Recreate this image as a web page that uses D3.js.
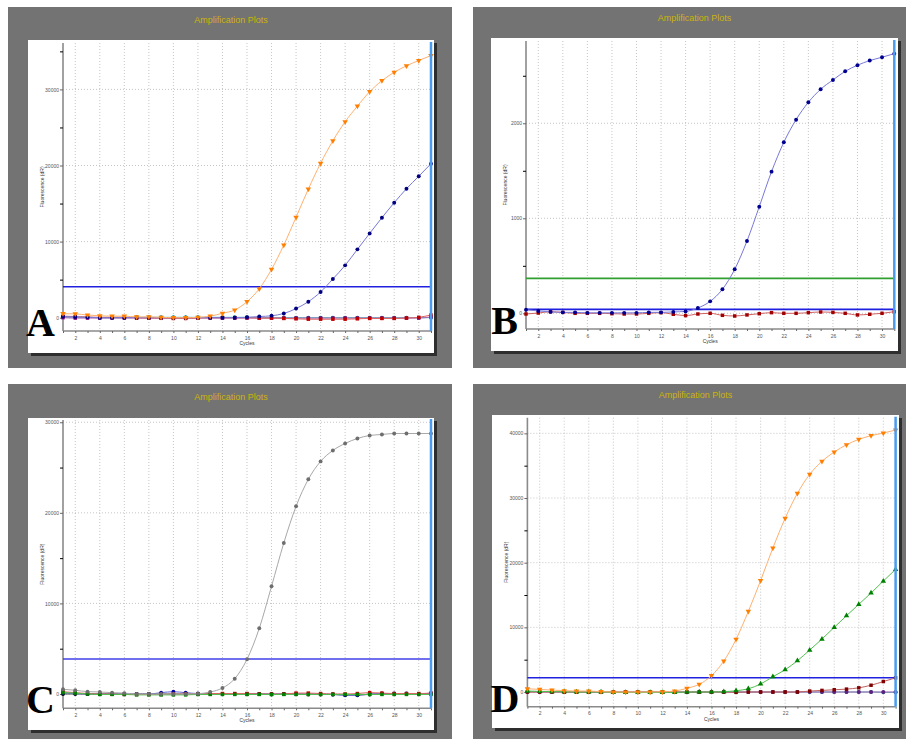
<!DOCTYPE html>
<html>
<head>
<meta charset="utf-8">
<script src="https://cdn.jsdelivr.net/npm/d3@7"></script>
<style>
  body { margin: 0; background: #fff; }
  svg { display: block; font-family: "Liberation Sans", Arial, sans-serif; }
</style>
</head>
<body>
<script>
// cycle numbers on the x axis
var cycles = [1,2,3,4,5,6,7,8,9,10,11,12,13,14,15,16,17,18,19,20,21,22,23,24,25,26,27,28,29,30,31];

// panel A
var aOrange = [525,500,350,250,200,200,100,100,50,0,0,50,200,580,1010,2100,3800,6350,9550,13200,16900,20300,23250,25750,27800,29700,31150,32250,33100,33800,34450];
var aNavy = [150,100,50,0,0,0,0,0,0,0,0,0,0,0,0,50,150,250,550,1200,2100,3380,5090,6880,8980,11080,13140,15110,16950,18580,20240];
var aTeal = [100,50,50,0,0,0,50,50,50,50,50,50,50,50,50,50,0,0,0,0,0,0,0,0,0,0,0,0,0,0,0];
var aPurple = [0,-50,-50,-50,-50,-50,-50,-50,-50,-50,-50,-50,-50,-50,-50,-50,-50,-50,-50,-50,-50,-50,-50,-50,-50,-50,-50,-50,-50,-50,100];
var aRed = [200,150,100,50,50,50,0,-50,-50,-100,-100,-50,0,0,0,0,-50,-50,-100,-150,-200,-200,-200,-200,-150,-100,-100,-100,-50,50,350];
var aThreshold = 4070;

// panel B
var bBlue = [38,25,15,10,10,5,5,5,5,5,10,10,15,20,56,126,253,463,761,1122,1491,1800,2038,2221,2358,2456,2547,2611,2660,2695,2733];
var bRed = [-7,3,17,10,0,0,0,-4,-7,-7,0,7,-10,-24,-7,0,-21,-28,-17,-4,7,0,0,7,14,10,0,-17,-10,0,17];
var bThresholds = [368, 42];

// panel C
var cGray = [520,410,260,220,150,100,0,0,0,0,0,30,220,660,1690,3830,7250,11890,16670,20720,23700,25680,26890,27660,28210,28540,28650,28760,28760,28760,28760];
var cRed = [250,150,50,0,0,-50,-50,-50,-50,0,0,0,50,50,50,50,0,0,0,100,100,50,0,0,50,150,100,50,50,50,100];
var cBlue = [100,50,0,0,0,0,0,0,150,250,150,50,50,0,0,0,0,0,0,0,0,0,-50,-150,-150,0,50,50,50,0,100];
var cGreen = [150,100,0,-50,-50,-50,-100,-100,-100,-100,-100,-50,-50,-50,-50,-50,-50,-50,-50,-50,-50,-50,-50,-50,-50,-50,-50,-50,-50,-50,-50];
var cBlack = [0,0,0,0,0,0,0,0,0,0,0,0,0,0,0,0,0,-50,0,0,-50,-50,-50,-100,-100,-50,0,0,0,0,0];
var cThreshold = 3860;

// panel D
var dOrange = [510,400,300,200,150,150,50,0,0,0,0,30,150,580,1190,2530,4790,8140,12470,17220,22270,26860,30720,33660,35670,37110,38240,39070,39640,40050,40510];
var dGreen = [150,100,50,50,0,0,0,-50,-50,-50,-50,-50,-50,0,0,0,50,200,500,1240,2370,3450,4840,6490,8190,10000,11800,13560,15310,17160,18970];
var dDarkRed = [0,0,0,0,0,0,0,0,0,0,0,0,0,0,0,0,0,-50,0,0,0,0,0,150,250,350,450,650,1050,1620,2190];
var dPurple = [0,0,0,0,0,0,0,0,0,0,0,0,0,0,0,0,0,0,0,0,0,0,0,0,0,0,0,0,0,0,0];
var dTeal = [100,50,50,0,0,0,0,-50,-50,-50,-50,-50,-50,-50,0,0,0,0,0,0,0,0,0,0,0,0,0,0,0,-50,-50];
var dThreshold = 2210;

var svg = d3.select("body").append("svg")
    .attr("width", 906)
    .attr("height", 739);

// layout of each panel
var panels = [
  { letter: "A", frame: [8, 7, 444, 361], box: [28, 40, 406, 313], x: [63, 431], y: [331, 43],
    dom: [-1750, 36100], major: 10000, titleY: 23,
    thresholds: [{ v: aThreshold, c: "#2020e0" }],
    series: [
      { d: aTeal, line: "#40c8c8", mark: "#008b8b", shape: "circle" },
      { d: aPurple, line: "#b060b0", mark: "#800080", shape: "square" },
      { d: aRed, line: "#e06060", mark: "#c00000", shape: "square" },
      { d: aNavy, line: "#7878d8", mark: "#000080", shape: "circle" },
      { d: aOrange, line: "#ffb070", mark: "#ff7f00", shape: "down" }
    ] },
  { letter: "B", frame: [473, 7, 433, 361], box: [491, 38, 407, 313], x: [526, 894.3], y: [329, 41],
    dom: [-165, 2866], major: 1000, titleY: 21,
    thresholds: [{ v: bThresholds[0], c: "#30a030" }, { v: bThresholds[1], c: "#2020e0" }],
    series: [
      { d: bRed, line: "#d06060", mark: "#a00000", shape: "square" },
      { d: bBlue, line: "#7878d8", mark: "#000090", shape: "circle" }
    ] },
  { letter: "C", frame: [8, 384, 444, 355], box: [28, 418, 406, 312], x: [63, 431], y: [708.3, 420],
    dom: [-1580, 30250], major: 10000, titleY: 400,
    thresholds: [{ v: cThreshold, c: "#4040e8" }],
    series: [
      { d: cBlack, line: "#404040", mark: "#000000", shape: "circle" },
      { d: cBlue, line: "#6060d0", mark: "#0000a0", shape: "circle" },
      { d: cRed, line: "#e06060", mark: "#c00000", shape: "square" },
      { d: cGreen, line: "#50c050", mark: "#008000", shape: "square" },
      { d: cGray, line: "#a8a8a8", mark: "#6e6e6e", shape: "circle" }
    ] },
  { letter: "D", frame: [473, 384, 433, 355], box: [492, 415, 407, 313], x: [527.4, 895.6], y: [706.7, 417.7],
    dom: [-2270, 42420], major: 10000, titleY: 398,
    thresholds: [{ v: dThreshold, c: "#2020e0" }],
    series: [
      { d: dTeal, line: "#40c8c8", mark: "#008b8b", shape: "circle" },
      { d: dPurple, line: "#b060b0", mark: "#602080", shape: "circle" },
      { d: dDarkRed, line: "#c06060", mark: "#800000", shape: "square" },
      { d: dGreen, line: "#50c050", mark: "#008000", shape: "up" },
      { d: dOrange, line: "#ffb070", mark: "#ff7f00", shape: "down" }
    ] }
];

var shapes = {
  circle: d3.symbol().type(d3.symbolCircle).size(12),
  square: d3.symbol().type(d3.symbolSquare).size(12),
  up: d3.symbol().type(d3.symbolTriangle).size(13),
  down: d3.symbol().type(d3.symbolTriangle).size(13)
};

panels.forEach(drawPanel);

function drawPanel(p) {
  var g = svg.append("g");

  // gray frame, shadow and white plot box
  g.append("rect").attr("x", p.frame[0]).attr("y", p.frame[1])
      .attr("width", p.frame[2]).attr("height", p.frame[3]).attr("fill", "#737373");
  g.append("rect").attr("x", p.box[0] + 3).attr("y", p.box[1] + 3)
      .attr("width", p.box[2]).attr("height", p.box[3]).attr("fill", "#2e2e2e");
  g.append("rect").attr("x", p.box[0]).attr("y", p.box[1])
      .attr("width", p.box[2]).attr("height", p.box[3]).attr("fill", "#fff");

  g.append("text")
      .attr("x", p.box[0] + p.box[2] / 2).attr("y", p.titleY)
      .attr("text-anchor", "middle").attr("font-size", "9px")
      .attr("fill", "#cdb40a").text("Amplification Plots");

  var x = d3.scaleLinear().domain([1, 31]).range(p.x);
  var y = d3.scaleLinear().domain(p.dom).range(p.y);

  var majors = d3.range(0, p.dom[1], p.major);
  var minors = d3.range(p.major / 2, p.dom[1], p.major);
  var evens = cycles.filter(function (c) { return c % 2 === 0; });

  // dotted grid
  g.selectAll(".vgrid").data(evens).enter().append("line")
      .attr("x1", function (c) { return x(c); }).attr("x2", function (c) { return x(c); })
      .attr("y1", p.y[1]).attr("y2", p.y[0])
      .attr("stroke", "#b8b8b8").attr("stroke-width", 0.8).attr("stroke-dasharray", "1,2");
  g.selectAll(".hgrid").data(majors).enter().append("line")
      .attr("x1", p.x[0]).attr("x2", p.x[1])
      .attr("y1", function (v) { return y(v); }).attr("y2", function (v) { return y(v); })
      .attr("stroke", "#b8b8b8").attr("stroke-width", 0.8).attr("stroke-dasharray", "1,2");

  // axes
  var yAxis = g.append("g").attr("transform", "translate(" + p.x[0] + ",0)")
      .call(d3.axisLeft(y).tickValues(majors).tickSize(3).tickPadding(1).tickFormat(d3.format("d")));
  g.append("g").attr("transform", "translate(" + p.x[0] + ",0)")
      .call(d3.axisLeft(y).tickValues(minors).tickSize(3).tickFormat(""))
      .select(".domain").remove();
  var xAxis = g.append("g").attr("transform", "translate(0," + p.y[0] + ")")
      .call(d3.axisBottom(x).tickValues(cycles).tickSize(2).tickPadding(3)
        .tickFormat(function (c) { return c % 2 === 0 ? c : ""; }));

  [yAxis, xAxis].forEach(function (a) {
    a.select(".domain").attr("stroke", "#8a8a8a").attr("stroke-width", 1.6);
    a.selectAll(".tick line").attr("stroke", "#666");
    a.selectAll(".tick text").attr("font-size", "5px").attr("fill", "#555");
  });
  yAxis.select(".domain").attr("d", "M0," + p.y[0] + "V" + p.y[1]);
  xAxis.select(".domain").attr("d", "M" + p.x[0] + ",0H" + p.x[1]);

  g.append("text")
      .attr("transform", "translate(" + (p.x[0] - 19) + "," + ((p.y[0] + p.y[1]) / 2) + ") rotate(-90)")
      .attr("text-anchor", "middle").attr("font-size", "5px").attr("fill", "#333")
      .text("Fluorescence (dR)");
  g.append("text")
      .attr("x", (p.x[0] + p.x[1]) / 2).attr("y", p.y[0] + 14)
      .attr("text-anchor", "middle").attr("font-size", "5px").attr("fill", "#333")
      .text("Cycles");

  // threshold lines
  p.thresholds.forEach(function (t) {
    g.append("line")
        .attr("x1", p.x[0]).attr("x2", p.x[1])
        .attr("y1", y(t.v)).attr("y2", y(t.v))
        .attr("stroke", t.c).attr("stroke-width", 1.6);
  });

  // amplification curves
  var line = d3.line()
      .x(function (v, i) { return x(cycles[i]); })
      .y(function (v) { return y(v); })
      .curve(d3.curveMonotoneX);

  p.series.forEach(function (s) {
    g.append("path").attr("d", line(s.d))
        .attr("fill", "none").attr("stroke", s.line).attr("stroke-width", 1);
    g.selectAll(null).data(s.d).enter().append("path")
        .attr("d", shapes[s.shape])
        .attr("transform", function (v, i) {
          return "translate(" + x(cycles[i]) + "," + y(v) + ")" + (s.shape === "down" ? " rotate(180)" : "");
        })
        .attr("fill", s.mark);
  });

  // cursor line at the last cycle
  g.append("line")
      .attr("x1", x(31)).attr("x2", x(31))
      .attr("y1", p.y[1] - 1).attr("y2", p.y[0])
      .attr("stroke", "#4a9cf0").attr("stroke-width", 2.5);

  // panel letter, kept just left of the "0" label
  g.append("text")
      .attr("x", p.x[0] - 8).attr("y", p.y[0] + 5)
      .attr("text-anchor", "end")
      .attr("font-family", "'Liberation Serif', 'Times New Roman', serif")
      .attr("font-weight", "bold").attr("font-size", "40px")
      .attr("fill", "#000").text(p.letter);
}
</script>
</body>
</html>
